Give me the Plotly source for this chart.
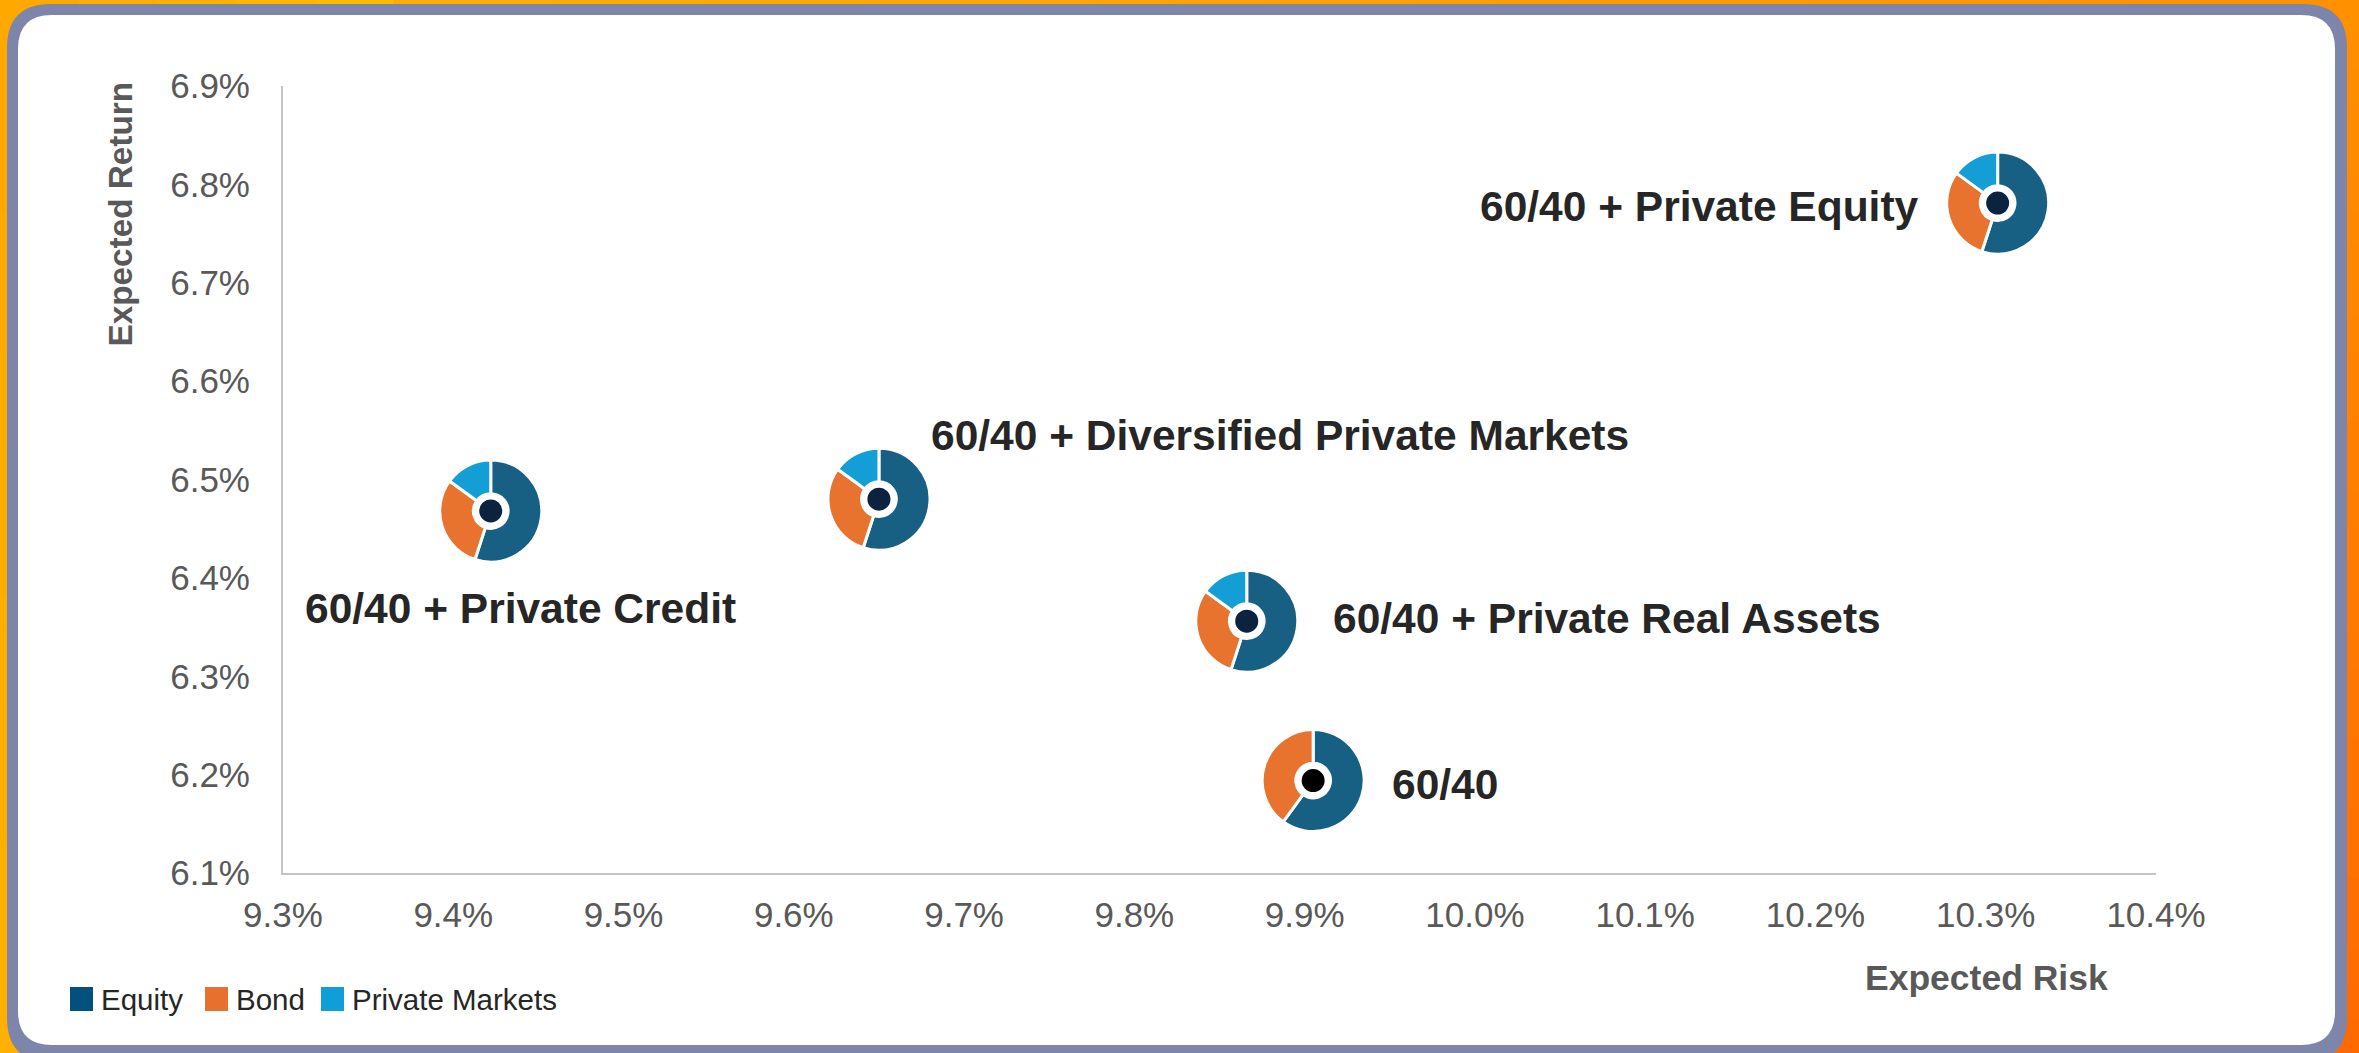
import plotly.graph_objects as go

# ---------------- data ----------------
portfolios = ["60/40 + Private Credit", "60/40 + Diversified Private Markets",
              "60/40 + Private Real Assets", "60/40 + Private Equity", "60/40"]
expected_risk = [9.422, 9.650, 9.866, 10.307, 9.905]      # %
expected_return = [6.468, 6.480, 6.356, 6.781, 6.194]     # %
asset_classes = ["Equity", "Bond", "Private Markets"]
weights = [
    [55, 30, 15],
    [55, 30, 15],
    [55, 30, 15],
    [55, 30, 15],
    [60, 40],
]
x_ticks = [9.3, 9.4, 9.5, 9.6, 9.7, 9.8, 9.9, 10.0, 10.1, 10.2, 10.3, 10.4]
y_ticks = [6.1, 6.2, 6.3, 6.4, 6.5, 6.6, 6.7, 6.8, 6.9]
x_tick_labels = [f"{v:.1f}%" for v in x_ticks]
y_tick_labels = [f"{v:.1f}%" for v in y_ticks]

# ---------------- styles ----------------
W, H = 2359, 1053
ML, MR, MT, MB = 283, 203, 86, 180
PW, PH = W - ML - MR, H - MT - MB
X0, X1 = x_ticks[0], x_ticks[-1]
Y0, Y1 = y_ticks[0], y_ticks[-1]
FONT = "Liberation Sans, Arial, sans-serif"
PIE_COLORS = ["#176084", "#e8732f", "#139fd6"]
LEGEND_COLORS = ["#03507f", "#e8702f", "#0f9fd6"]
DOT_COLORS = ["#0c2340", "#0c2340", "#0c2340", "#0c2340", "#000000"]
PIE_R = 51  # px
# label placement (anchor, xshift px, yshift px)
label_place = [("left", -188, -98), ("left", 50, 64), ("left", 84, 3),
               ("right", -77, -3), ("left", 77, -4)]


def px_x(px):
    return (px - ML) / PW


def px_y(py):
    return (H - MB - py) / PH


fig = go.Figure()

# pies, positioned from the data through the axis ranges
for name, xr, yr, w in zip(portfolios, expected_risk, expected_return, weights):
    fx = (xr - X0) / (X1 - X0)
    fy = (yr - Y0) / (Y1 - Y0)
    rx, ry = PIE_R / PW, PIE_R / PH
    fig.add_trace(go.Pie(
        labels=asset_classes[:len(w)], values=w, name=name,
        domain=dict(x=[fx - rx, fx + rx], y=[fy - ry, fy + ry]),
        sort=False, direction="clockwise", rotation=0, hole=0.34,
        textinfo="none", hoverinfo="label+value",
        marker=dict(colors=PIE_COLORS[:len(w)], line=dict(color="white", width=3)),
        showlegend=False,
    ))

# center dots
fig.add_trace(go.Scatter(
    x=expected_risk, y=expected_return, mode="markers", text=portfolios,
    marker=dict(size=26, color=DOT_COLORS, line=dict(color="white", width=3)),
    showlegend=False, cliponaxis=False, hoverinfo="text",
))

# labels
annotations = []
for name, xr, yr, (anc, xs, ys) in zip(portfolios, expected_risk, expected_return, label_place):
    annotations.append(dict(
        x=xr, y=yr, xref="x", yref="y", text=f"<b>{name}</b>", showarrow=False,
        xanchor=anc, yanchor="middle", xshift=xs, yshift=ys,
        font=dict(family=FONT, size=42.5, color="#262626"),
    ))

# axis titles
annotations.append(dict(
    x=px_x(1986), y=px_y(978), xref="paper", yref="paper", text="<b>Expected Risk</b>",
    showarrow=False, xanchor="center", yanchor="middle",
    font=dict(family=FONT, size=35.5, color="#595959"),
))
annotations.append(dict(
    x=px_x(120), y=px_y(80), xref="paper", yref="paper", text="<b>Expected Return</b>",
    showarrow=False, xanchor="center", yanchor="top", textangle=-90,
    font=dict(family=FONT, size=33.3, color="#595959"),
))

# legend (custom, bottom-left)
shapes = []
legend_x = [70, 205, 321]
for lab, col, lx in zip(asset_classes, LEGEND_COLORS, legend_x):
    shapes.append(dict(type="rect", xref="paper", yref="paper",
                       x0=px_x(lx), x1=px_x(lx + 23), y0=px_y(1011), y1=px_y(987),
                       fillcolor=col, line=dict(width=0), layer="above"))
    annotations.append(dict(
        x=px_x(lx + 29), y=px_y(999), xref="paper", yref="paper", text=lab,
        showarrow=False, xanchor="left", yanchor="middle",
        font=dict(family=FONT, size=29.5, color="#262626"),
    ))

# ---------------- frame ----------------
def hexmix(c1, c2, t):
    a = [int(c1[i:i + 2], 16) for i in (1, 3, 5)]
    b = [int(c2[i:i + 2], 16) for i in (1, 3, 5)]
    return "#" + "".join(f"{round(a[k] + (b[k] - a[k]) * t):02x}" for k in range(3))


bg = []
N = 30
for i in range(N):
    t = i / (N - 1)
    x0 = W * i / N
    x1 = W * (i + 1) / N + 1
    c = hexmix("#ffb400", "#ff9000", t) if t > 0.15 else hexmix("#ffa800", "#ffbc00", t / 0.15)
    bg.append(dict(type="rect", xref="paper", yref="paper", x0=px_x(x0), x1=px_x(x1),
                   y0=px_y(30), y1=px_y(-2), fillcolor=c, line=dict(width=0), layer="below"))
for i in range(N):
    t = i / (N - 1)
    y0 = H * i / N
    y1 = H * (i + 1) / N + 1
    bg.append(dict(type="rect", xref="paper", yref="paper", x0=px_x(2300), x1=px_x(W + 2),
                   y0=px_y(y1), y1=px_y(y0), fillcolor=hexmix("#ff9000", "#ff6a00", t),
                   line=dict(width=0), layer="below"))
    bg.append(dict(type="rect", xref="paper", yref="paper", x0=px_x(-2), x1=px_x(40),
                   y0=px_y(y1), y1=px_y(y0), fillcolor=hexmix("#ffa800", "#ffb000", t),
                   line=dict(width=0), layer="below"))


def rounded(x0, y0, x1, y1, r):
    P = lambda a, b: f"{px_x(a):.6f},{px_y(b):.6f}"
    return (f"M{P(x0 + r, y0)} L{P(x1 - r, y0)} Q{P(x1, y0)} {P(x1, y0 + r)} "
            f"L{P(x1, y1 - r)} Q{P(x1, y1)} {P(x1 - r, y1)} L{P(x0 + r, y1)} "
            f"Q{P(x0, y1)} {P(x0, y1 - r)} L{P(x0, y0 + r)} Q{P(x0, y0)} {P(x0 + r, y0)} Z")


bg.append(dict(type="path", xref="paper", yref="paper", path=rounded(7, 4, 2347, 1062, 44),
               fillcolor="#7e85ab", line=dict(width=0), layer="below"))
bg.append(dict(type="path", xref="paper", yref="paper", path=rounded(18, 15, 2335, 1045, 34),
               fillcolor="#ffffff", line=dict(width=0), layer="below"))

fig.update_layout(
    width=W, height=H,
    margin=dict(l=ML, r=MR, t=MT, b=MB, pad=0),
    paper_bgcolor="#ffa000", plot_bgcolor="rgba(0,0,0,0)",
    showlegend=False,
    shapes=bg + shapes,
    annotations=annotations,
    xaxis=dict(range=[X0, X1], tickvals=x_ticks, ticktext=x_tick_labels,
               showgrid=False, zeroline=False, showline=True, linecolor="#c4c4c4", linewidth=2,
               ticks="", ticklabelstandoff=10,
               tickfont=dict(family=FONT, size=35, color="#595959")),
    yaxis=dict(range=[Y0, Y1], tickvals=y_ticks, ticktext=y_tick_labels,
               showgrid=False, zeroline=False, showline=True, linecolor="#c4c4c4", linewidth=2,
               ticks="", ticklabelstandoff=24,
               tickfont=dict(family=FONT, size=35, color="#595959")),
)

fig.write_html("out.html", config={"displayModeBar": False},
               post_script="document.body.style.margin='0';document.body.style.overflow='hidden';")
